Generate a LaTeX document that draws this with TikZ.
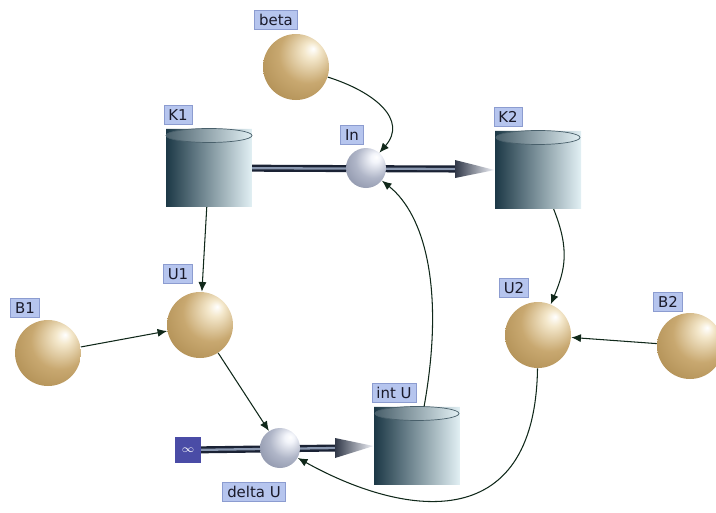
\documentclass[tikz,border=0pt]{standalone}
\usepackage{fontspec}
\setsansfont{DejaVu Sans}
\usetikzlibrary{arrows.meta,shapes.geometric,backgrounds}

\definecolor{tagfill}{HTML}{B6C5EE}
\definecolor{tagline}{HTML}{8C9CD0}
\definecolor{tagtext}{HTML}{1A1A2A}
\definecolor{linkcol}{HTML}{10281A}
\definecolor{goldhi}{HTML}{F4E8CC}
\definecolor{goldmid}{HTML}{C8A870}
\definecolor{golddark}{HTML}{A48246}
\definecolor{goldedge}{HTML}{7A5C2E}
\definecolor{valvehi}{HTML}{F2F4FA}
\definecolor{valvemid}{HTML}{B0B6C8}
\definecolor{valvedark}{HTML}{7C849C}
\definecolor{valveedge}{HTML}{4A5068}
\definecolor{cyldark}{HTML}{1C3846}
\definecolor{cylmid}{HTML}{6E8E9A}
\definecolor{cyllight}{HTML}{E2F0F4}
\definecolor{pipedark}{HTML}{1A2234}
\definecolor{pipelight}{HTML}{8A98B0}
\definecolor{srcfill}{HTML}{4A4CA6}

\pgfdeclareradialshading{goldball}{\pgfpoint{13bp}{14bp}}{color(0bp)=(white); color(6bp)=(goldhi); color(22bp)=(goldmid); color(46bp)=(golddark); color(70bp)=(goldedge)}
\pgfdeclareradialshading{valveball}{\pgfpoint{13bp}{14bp}}{color(0bp)=(white); color(6bp)=(valvehi); color(22bp)=(valvemid); color(46bp)=(valvedark); color(70bp)=(valveedge)}

\tikzset{
  level/.style={circle, shade, shading=goldball, minimum size=1.32cm, inner sep=0pt},
  valve/.style={circle, shade, shading=valveball, minimum size=0.8cm, inner sep=0pt},
  stock/.style={cylinder, shape border rotate=90, aspect=0.3, minimum width=1.72cm, minimum height=1.56cm,
    inner sep=0pt, left color=cyldark, middle color=cylmid, right color=cyllight},
  stocktop/.style={left color=cyldark!80, middle color=cylmid!90, right color=cyllight, draw=cyldark!80, line width=0.4pt},
  tag/.style={fill=tagfill, draw=tagline, line width=0.5pt, text=tagtext,
    font=\sffamily\fontsize{8.5}{9}\selectfont, inner xsep=2.5pt, inner ysep=1pt, minimum height=11pt},
  source/.style={fill=srcfill, text=white, minimum size=0.52cm, inner sep=0pt, font=\fontsize{6}{7}\selectfont},
  link/.style={draw=linkcol, line width=0.6pt, -{Latex[length=5.5pt,width=4.6pt]}},
  pipe/.style={draw=pipedark, line width=4pt},
  pipecore/.style={draw=pipelight, line width=1.3pt},
  flowtip/.style={left color=pipedark!90, right color=valvehi}
}

\begin{document}
\begin{tikzpicture}[x=0.02cm,y=-0.02cm]
  \useasboundingbox (0,0) rectangle (716,512);

  % levels
  \node[level] (beta) at (296,67) {};
  \node[level] (u1) at (200,325) {};
  \node[level] (b1) at (48,353) {};
  \node[level] (u2) at (538,335) {};
  \node[level] (b2) at (690,346) {};

  % stocks
  \node[stock] (k1) at (209,168) {};
  \node[stock] (k2) at (538,170) {};
  \node[stock] (intu) at (417,446) {};
  \shade[stocktop] (k1.top) ++(0,7) ellipse (43 and 7);
  \shade[stocktop] (k2.top) ++(0,7) ellipse (42 and 7);
  \shade[stocktop] (intu.top) ++(0,7) ellipse (42 and 7);

  % flows
  \node[source] (src) at (188,450) {$\infty$};
  \node[valve] (in) at (366,168) {};
  \node[valve] (du) at (280,448) {};
  \coordinate (tip1) at (455,169);
  \coordinate (tip2) at (335,448);
  \begin{pgfonlayer}{background}
    \draw[pipe] (k1.center) -- (tip1);
    \draw[pipecore] (k1.center) -- (tip1);
    \draw[pipe] (src.center) -- (tip2);
    \draw[pipecore] (src.center) -- (tip2);
  \end{pgfonlayer}
  \shade[flowtip] (tip1) ++(0,-9) -- (k2.west) -- (455,178) -- cycle;
  \shade[flowtip] (tip2) ++(0,-10) -- (intu.west) -- (335,458) -- cycle;

  % tags
  \node[tag] (tbeta) at (276,20) {beta};
  \node[tag] (tk1) at (178,115) {K1};
  \node[tag] (tin) at (352,135) {In};
  \node[tag] (tk2) at (508,117) {K2};
  \node[tag] (tu1) at (178,274) {U1};
  \node[tag] (tb1) at (25,308) {B1};
  \node[tag] (tu2) at (514,288) {U2};
  \node[tag] (tb2) at (668,302) {B2};
  \node[tag] (tintu) at (394,393) {int U};
  \node[tag] (tdu) at (254,492) {delta U};

  % links
  \draw[link] (beta) .. controls (375,92) and (408,120) .. (in);
  \draw[link] (intu) .. controls (445,290) and (425,215) .. (in);
  \draw[link] (k1) -- (u1);
  \draw[link] (b1) -- (u1);
  \draw[link] (u1) -- (du);
  \draw[link] (k2) .. controls (570,250) and (565,270) .. (u2);
  \draw[link] (b2) -- (u2);
  \draw[link] (u2) .. controls (535,540) and (400,515) .. (du);
\end{tikzpicture}
\end{document}
